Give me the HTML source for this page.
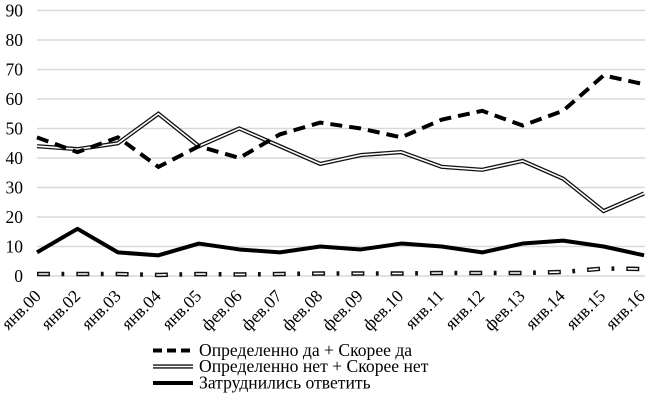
<!DOCTYPE html>
<html><head><meta charset="utf-8">
<style>
html,body{margin:0;padding:0;background:#fff;}
svg{display:block;}
text{font-family:"Liberation Serif","Noto Serif CJK SC",serif;fill:#000;}
</style></head>
<body>
<svg width="650" height="401" viewBox="0 0 650 401" xmlns="http://www.w3.org/2000/svg">
<g stroke="#d9d9d9" stroke-width="1.5">
<line x1="37" y1="10.5" x2="645" y2="10.5"/>
<line x1="37" y1="40" x2="645" y2="40"/>
<line x1="37" y1="69.5" x2="645" y2="69.5"/>
<line x1="37" y1="99" x2="645" y2="99"/>
<line x1="37" y1="128.5" x2="645" y2="128.5"/>
<line x1="37" y1="158" x2="645" y2="158"/>
<line x1="37" y1="187.5" x2="645" y2="187.5"/>
<line x1="37" y1="217" x2="645" y2="217"/>
<line x1="37" y1="246.5" x2="645" y2="246.5"/>
<line x1="37" y1="276" x2="645" y2="276"/>
</g>
<g font-size="17.5" text-anchor="end">
<text x="23" y="16.5">90</text>
<text x="23" y="46">80</text>
<text x="23" y="75.5">70</text>
<text x="23" y="105">60</text>
<text x="23" y="134.5">50</text>
<text x="23" y="164">40</text>
<text x="23" y="193.5">30</text>
<text x="23" y="223">20</text>
<text x="23" y="252.5">10</text>
<text x="23" y="282">0</text>
</g>
<g font-size="17.5" text-anchor="end">
<text transform="translate(42,297) rotate(-45)">янв.00</text>
<text transform="translate(81.5,297) rotate(-45)">янв.02</text>
<text transform="translate(122,297) rotate(-45)">янв.03</text>
<text transform="translate(162,297) rotate(-45)">янв.04</text>
<text transform="translate(202.5,297) rotate(-45)">янв.05</text>
<text transform="translate(243,297) rotate(-45)">фев.06</text>
<text transform="translate(283,297) rotate(-45)">фев.07</text>
<text transform="translate(323.5,297) rotate(-45)">фев.08</text>
<text transform="translate(364,297) rotate(-45)">фев.09</text>
<text transform="translate(404.5,297) rotate(-45)">фев.10</text>
<text transform="translate(445,297) rotate(-45)">янв.11</text>
<text transform="translate(485.5,297) rotate(-45)">янв.12</text>
<text transform="translate(526,297) rotate(-45)">фев.13</text>
<text transform="translate(566,297) rotate(-45)">янв.14</text>
<text transform="translate(606.5,297) rotate(-45)">янв.15</text>
<text transform="translate(646,297) rotate(-45)">янв.16</text>
</g>
<!-- series 4: dash-dot outlined -->
<polyline fill="none" stroke="#111" stroke-width="4.5" stroke-dasharray="13 11.5 2.8 12" points="37,274 77.47,274 117.94,274 158.41,275 198.88,274 239.35,274.5 279.82,274 320.29,273.5 360.76,273.5 401.23,273.5 441.7,273 482.17,273 522.64,273 563.11,272 603.58,268.5 644.05,269"/>
<polyline fill="none" stroke="#fff" stroke-width="1.6" stroke-dasharray="0 1.5 10 27.8" points="37,274 77.47,274 117.94,274 158.41,275 198.88,274 239.35,274.5 279.82,274 320.29,273.5 360.76,273.5 401.23,273.5 441.7,273 482.17,273 522.64,273 563.11,272 603.58,268.5 644.05,269"/>
<!-- series 3: solid -->
<polyline fill="none" stroke="#000" stroke-width="4" stroke-linejoin="round" points="37,252.4 77.47,228.8 117.94,252.4 158.41,255.35 198.88,243.55 239.35,249.45 279.82,252.4 320.29,246.5 360.76,249.45 401.23,243.55 441.7,246.5 482.17,252.4 522.64,243.55 563.11,240.6 603.58,246.5 644.05,255.35"/>
<!-- series 2: double -->
<polyline fill="none" stroke="#111" stroke-width="4.2" points="37,146.2 77.47,149.15 117.94,143.25 158.41,113.75 198.88,146.2 239.35,128.5 279.82,146.2 320.29,163.9 360.76,155.05 401.23,152.1 441.7,166.85 482.17,169.8 522.64,160.95 563.11,178.65 603.58,211.1 644.05,193.4"/>
<polyline fill="none" stroke="#fff" stroke-width="1.6" points="37,146.2 77.47,149.15 117.94,143.25 158.41,113.75 198.88,146.2 239.35,128.5 279.82,146.2 320.29,163.9 360.76,155.05 401.23,152.1 441.7,166.85 482.17,169.8 522.64,160.95 563.11,178.65 603.58,211.1 644.05,193.4"/>
<!-- series 1: dashed -->
<polyline fill="none" stroke="#000" stroke-width="4" stroke-dasharray="12 7" points="37,137.35 77.47,152.1 117.94,137.35 158.41,166.85 198.88,146.2 239.35,158 279.82,134.4 320.29,122.6 360.76,128.5 401.23,137.35 441.7,119.65 482.17,110.8 522.64,125.55 563.11,110.8 603.58,75.4 644.05,84.25"/>
<!-- legend -->
<line x1="153" y1="350.5" x2="193" y2="350.5" stroke="#000" stroke-width="4" stroke-dasharray="9 5"/>
<line x1="153" y1="366.5" x2="193" y2="366.5" stroke="#111" stroke-width="4.2"/>
<line x1="153" y1="366.5" x2="193" y2="366.5" stroke="#fff" stroke-width="1.6"/>
<line x1="153" y1="383" x2="193" y2="383" stroke="#000" stroke-width="4"/>
<g font-size="17.6">
<text x="199" y="356">Определенно да + Скорее да</text>
<text x="199" y="372">Определенно нет + Скорее нет</text>
<text x="199" y="388.5">Затруднились ответить</text>
</g>
</svg>
</body></html>
